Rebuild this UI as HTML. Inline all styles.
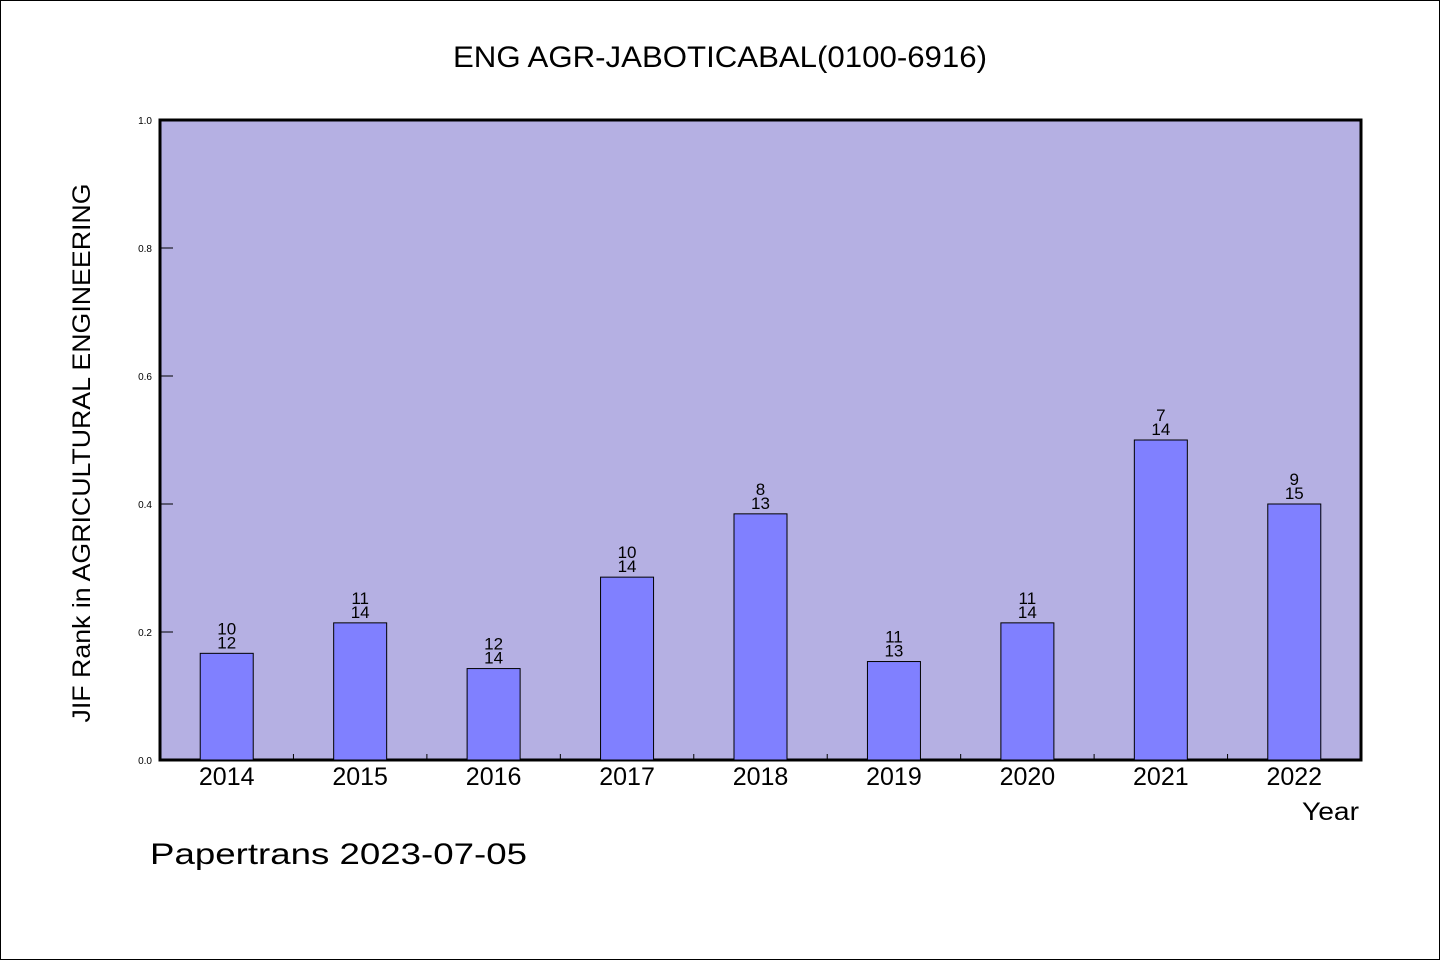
<!DOCTYPE html>
<html><head><meta charset="utf-8"><style>
html,body{margin:0;padding:0;background:#fff}
svg{display:block}
text{font-family:"Liberation Sans","WenQuanYi Zen Hei",sans-serif;fill:#000}
</style></head><body>
<svg id="chart" width="1440" height="960" viewBox="0 0 1440 960">
<rect x="0.5" y="0.5" width="1439" height="959" fill="#fff" stroke="#000"/>
<text x="720" y="67" text-anchor="middle" font-size="30" textLength="534" lengthAdjust="spacingAndGlyphs">ENG AGR-JABOTICABAL(0100-6916)</text>
<rect x="160" y="120" width="1201" height="640" fill="#b5b0e3" stroke="#000" stroke-width="3"/>
<g id="yaxis"></g>
<g id="xaxis"></g>
<g id="bars"></g>
<text transform="translate(90,453) rotate(-90)" text-anchor="middle" font-size="25" textLength="539" lengthAdjust="spacingAndGlyphs">JIF Rank in AGRICULTURAL ENGINEERING</text>
<text x="1359" y="820" text-anchor="end" font-size="25" textLength="57" lengthAdjust="spacingAndGlyphs">Year</text>
<text x="150" y="864" font-size="30" textLength="377" lengthAdjust="spacingAndGlyphs">Papertrans 2023-07-05</text>
</svg>
<script>
const categories = ["2014","2015","2016","2017","2018","2019","2020","2021","2022"];
const ranks = [10,11,12,10,8,11,11,7,9];
const totals = [12,14,14,14,13,13,14,14,15];
const yTicks = ["0.0","0.2","0.4","0.6","0.8","1.0"];

const NS = "http://www.w3.org/2000/svg";
const X0 = 160, X1 = 1361, Y0 = 760, Y1 = 120;
const band = (X1 - X0) / categories.length;
const xCenter = i => X0 + band * (i + 0.5);
const yScale = v => Y0 - (Y0 - Y1) * v;
function mk(tag, attrs, parent) {
  const e = document.createElementNS(NS, tag);
  for (const k in attrs) e.setAttribute(k, attrs[k]);
  parent.appendChild(e);
  return e;
}
const yg = document.getElementById('yaxis');
yTicks.forEach(t => {
  const y = yScale(parseFloat(t));
  const l = mk('line', {x1: 161, x2: 173, y1: y, y2: y, stroke: '#000', 'stroke-width': 1}, yg);
  
  
  const tx = mk('text', {x: 152, y: y + 4, 'text-anchor': 'end', 'font-size': 10}, yg);
  
  
  tx.textContent = t;
});
const xg = document.getElementById('xaxis');
for (let i = 1; i < categories.length; i++) {
  const x = X0 + band * i;
  const l = mk('line', {x1: x, x2: x, y1: 754, y2: 760, stroke: '#000', 'stroke-width': 1}, xg);
  
  
}
const bg = document.getElementById('bars');
categories.forEach((c, i) => {
  const v = (totals[i] - ranks[i]) / totals[i];
  const cx = xCenter(i), y = yScale(v);
  const r = mk('rect', {x: cx - 26.5, y: y, width: 53, height: Y0 - y, fill: '#8080ff', stroke: '#000', 'stroke-width': 1}, bg);
  
  
  const t1 = mk('text', {x: cx, y: y - 19, 'text-anchor': 'middle', 'font-size': 17}, bg);
  
  
  t1.textContent = ranks[i];
  const t2 = mk('text', {x: cx, y: y - 5, 'text-anchor': 'middle', 'font-size': 17}, bg);
  
  
  t2.textContent = totals[i];
  const xl = mk('text', {x: cx, y: 785, 'text-anchor': 'middle', 'font-size': 25}, xg);
  
  
  xl.textContent = c;
});
</script>
</body></html>
